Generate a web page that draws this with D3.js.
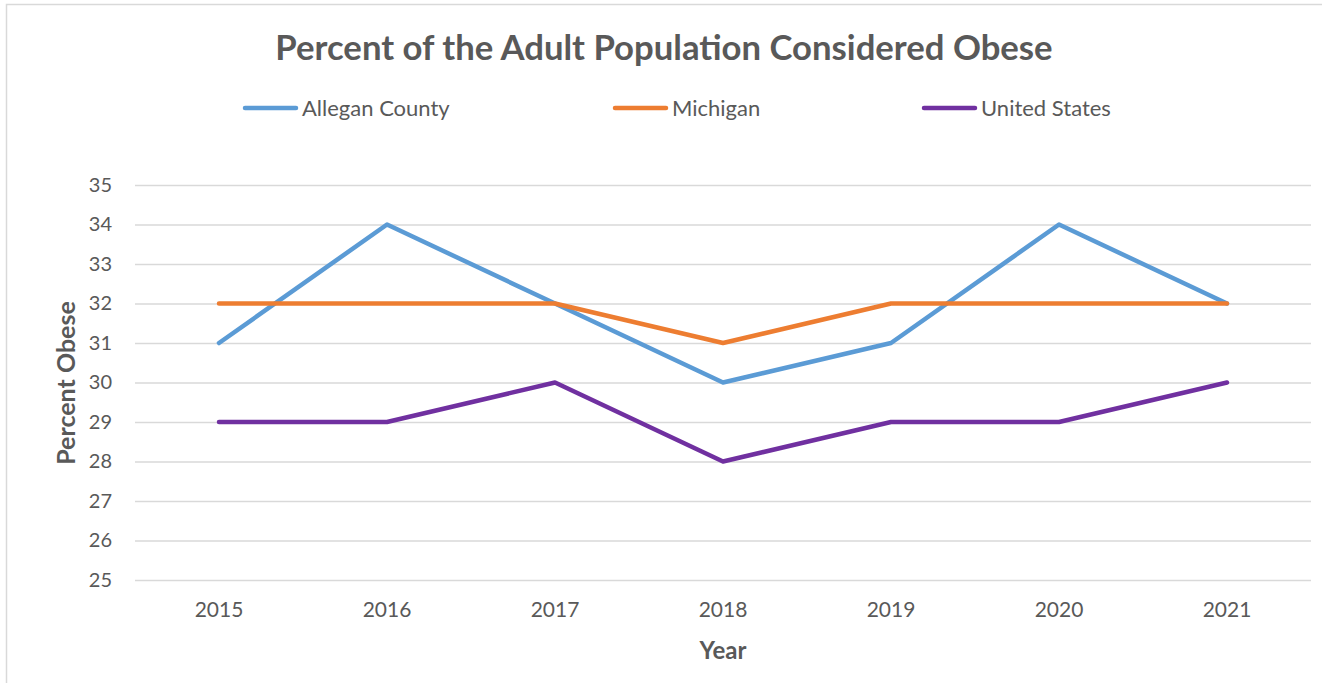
<!DOCTYPE html>
<html>
<head>
<meta charset="utf-8">
<script src="https://cdn.jsdelivr.net/npm/d3@7"></script>
<style>
  body { margin: 0; background: #fff; }
  svg text { font-family: Lato, "Open Sans", sans-serif; fill: #595959; }
</style>
</head>
<body>
<script>
// chart data
var years = ["2015", "2016", "2017", "2018", "2019", "2020", "2021"];
var allegan = [31, 34, 32, 30, 31, 34, 32];
var michigan = [32, 32, 32, 31, 32, 32, 32];
var unitedStates = [29, 29, 30, 28, 29, 29, 30];
var seriesNames = ["Allegan County", "Michigan", "United States"];
var yTicks = [25, 26, 27, 28, 29, 30, 31, 32, 33, 34, 35];

var colors = ["#5B9BD5", "#ED7D31", "#7030A0"];
var seriesValues = [allegan, michigan, unitedStates];

var width = 1322, height = 683;
var svg = d3.select("body").append("svg")
	.attr("width", width)
	.attr("height", height);

// chart border
svg.append("rect")
	.attr("x", 6.5).attr("y", 4.5)
	.attr("width", 1330).attr("height", 690)
	.attr("fill", "none")
	.attr("stroke", "#D9D9D9")
	.attr("stroke-width", 1.5);

var x = d3.scaleBand().domain(years).range([135, 1311]);
var y = d3.scaleLinear().domain([25, 35]).range([580, 185]);

// gridlines
svg.append("g")
	.attr("transform", "translate(135,0)")
	.call(d3.axisLeft(y).tickValues(yTicks).tickSize(-1176).tickFormat(""))
	.call(function(g){ g.select(".domain").remove(); })
	.selectAll("line")
	.attr("stroke", "#D9D9D9")
	.attr("stroke-width", 1.5);

// y labels
var yAxis = svg.append("g")
	.attr("transform", "translate(112,0)")
	.call(d3.axisLeft(y).tickValues(yTicks).tickSize(0).tickPadding(0));
yAxis.select(".domain").remove();
yAxis.selectAll("text")
	.style("font-size", "20px")
	.style("font-family", "Lato, sans-serif")
	.attr("fill", "#595959");

// x labels
var xAxis = svg.append("g")
	.attr("transform", "translate(0,602)")
	.call(d3.axisBottom(x).tickSize(0).tickPadding(0));
xAxis.select(".domain").remove();
xAxis.selectAll("text")
	.style("font-size", "21px")
	.style("font-family", "Lato, sans-serif")
	.attr("fill", "#595959");

// lines
var line = d3.line()
	.x(function(d, i){ return x(years[i]) + x.bandwidth() / 2; })
	.y(function(d){ return y(d); });

for (var s = 0; s < seriesValues.length; s++)
{
	svg.append("path")
		.datum(seriesValues[s])
		.attr("d", line)
		.attr("fill", "none")
		.attr("stroke", colors[s])
		.attr("stroke-width", 4.5)
		.attr("stroke-linejoin", "round")
		.attr("stroke-linecap", "round");
}

// title
svg.append("text")
	.attr("x", 664).attr("y", 60)
	.attr("text-anchor", "middle")
	.style("font-size", "34.7px")
	.style("font-weight", "bold")
	.text("Percent of the Adult Population Considered Obese");

// axis titles
svg.append("text")
	.attr("x", 723).attr("y", 659)
	.attr("text-anchor", "middle")
	.style("font-size", "24px")
	.style("font-weight", "bold")
	.text("Year");

svg.append("text")
	.attr("transform", "translate(75,383) rotate(-90)")
	.attr("text-anchor", "middle")
	.style("font-size", "25px")
	.style("font-weight", "bold")
	.text("Percent Obese");

// legend
var legendX = [243, 613, 922];
var legend = svg.selectAll(".legend")
	.data(seriesNames)
	.enter().append("g")
	.attr("class", "legend")
	.attr("transform", function(d, i){ return "translate(" + legendX[i] + ",108)"; });
legend.append("line")
	.attr("x1", 2).attr("x2", 53)
	.attr("y1", 0).attr("y2", 0)
	.attr("stroke", function(d, i){ return colors[i]; })
	.attr("stroke-width", 4.5)
	.attr("stroke-linecap", "round");
legend.append("text")
	.attr("x", 59).attr("y", 8)
	.style("font-size", "22px")
	.text(function(d){ return d; });
</script>
</body>
</html>
